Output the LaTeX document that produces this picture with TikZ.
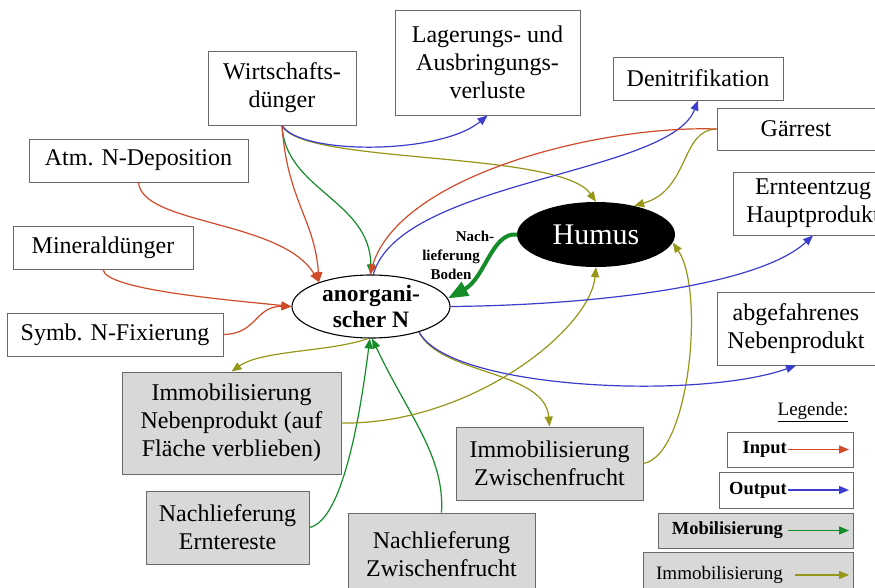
\documentclass[tikz,border=0pt]{standalone}
\usepackage{fontspec}
\setmainfont{Liberation Serif}
\usetikzlibrary{arrows.meta,shapes.geometric}
\definecolor{cin}{RGB}{210,75,40}
\definecolor{cout}{RGB}{60,60,205}
\definecolor{cmob}{RGB}{20,140,40}
\definecolor{cimm}{RGB}{150,150,25}
\definecolor{boxgray}{RGB}{216,216,216}
\definecolor{framegray}{RGB}{105,105,105}
\begin{document}
\begin{tikzpicture}[x=1pt,y=-1pt,
  box/.style={draw=framegray,line width=0.9pt,fill=white,inner sep=0pt,align=center,font=\fontsize{24}{28}\selectfont},
  gbox/.style={box,fill=boxgray},
  lbox/.style={draw=framegray,line width=0.9pt,inner sep=0pt},
  ltext/.style={inner sep=0pt,anchor=east,font=\fontsize{18.5}{22}\selectfont\bfseries},
  flow/.style={line width=1.2pt,-{Triangle[length=10pt,width=8pt]}},
  fin/.style={flow,draw=cin},
  fout/.style={flow,draw=cout},
  fmob/.style={flow,draw=cmob},
  fimm/.style={flow,draw=cimm}]
\clip (0,0) rectangle (875,587);
\fill[white] (0,0) rectangle (875,587);

% boxes
\node[box,minimum width=148pt,minimum height=74pt] (wd) at (282,88) {Wirtschafts-\\dünger};
\node[box,minimum width=185pt,minimum height=105pt] (lag) at (487.5,62.5) {Lagerungs- und\\Ausbringungs-\\verluste};
\node[box,minimum width=170pt,minimum height=43pt] (den) at (698,78.5) {Denitrifikation};
\node[box,minimum width=158pt,minimum height=42pt] (gar) at (796,129) {Gärrest};
\node[box,minimum width=160pt,minimum height=63pt] (ern) at (813,203.5) {Ernteentzug\\Hauptprodukt};
\node[box,minimum width=219pt,minimum height=43pt] (atm) at (138.5,160.5) {Atm. N-Deposition};
\node[box,minimum width=180pt,minimum height=43pt] (min) at (103,247.5) {Mineraldünger};
\node[box,minimum width=216pt,minimum height=43pt] (sym) at (115,334.5) {Symb. N-Fixierung};
\node[box,minimum width=158pt,minimum height=73pt] (abg) at (796,328.5) {abgefahrenes\\Nebenprodukt};
\node[gbox,minimum width=219pt,minimum height=102pt] (imn) at (231.5,423) {Immobilisierung\\Nebenprodukt (auf\\Fläche verblieben)};
\node[gbox,minimum width=163pt,minimum height=73pt] (nle) at (227.5,527.5) {Nachlieferung\\Erntereste};
\node[gbox,minimum width=187pt,minimum height=82pt] (nlz) at (441.5,554) {Nachlieferung\\Zwischenfrucht};
\node[gbox,minimum width=187pt,minimum height=73pt] (imz) at (549.5,463.5) {Immobilisierung\\Zwischenfrucht};

% ellipses
\node[ellipse,draw=black,line width=1.1pt,fill=white,inner sep=0pt,minimum width=158pt,minimum height=63pt] (an) at (371,306.5) {};
\node[align=center,inner sep=0pt,font=\fontsize{23.5}{26}\selectfont\bfseries] (antext) at (an.center) {anorgani-\\scher N};
\node[ellipse,fill=black,inner sep=0pt,minimum width=158pt,minimum height=65pt,text=white,font=\fontsize{30}{34}\selectfont] (hum) at (596,234.5) {Humus};

\node[align=center,inner sep=0pt,font=\fontsize{15}{19}\selectfont\bfseries] (nbl) at (451,255) {\hspace*{48pt}Nach-\\lieferung\\Boden};

% mobilisation (green)
\draw[fmob] (wd.south) .. controls (285,190) and (370,200) .. (an.north);
\draw[fmob] (nle.east) .. controls (345,520) and (362,400) .. (an.-92);
\draw[fmob] (nlz.north) .. controls (445,456) and (408,415) .. (an.-88);
\draw[draw=cmob,line width=4pt,-{Triangle[length=20pt,width=15pt]}] (hum.west) .. controls (492,232) and (485,278) .. (an.6);

% immobilisation (olive)
\draw[fimm] (wd.south) .. controls (300,165) and (560,150) .. (hum.north);
\draw[fimm] (gar.west) .. controls (680,130) and (690,190) .. (hum.37);
\draw[fimm] (an.-95) .. controls (330,352) and (262,350) .. (imn.north);
\draw[fimm] (imn.east) .. controls (470,425) and (590,330) .. (hum.south);
\draw[fimm] (an.-28) .. controls (440,375) and (545,370) .. (imz.north);
\draw[fimm] (imz.east) .. controls (690,455) and (705,290) .. (hum.-6);

% outputs (blue)
\draw[fout] (wd.south) .. controls (300,155) and (440,155) .. (lag.south);
\draw[fout] (an.86) .. controls (400,180) and (670,175) .. (den.south);
\draw[fout] (an.east) .. controls (600,305) and (760,285) .. (ern.south);
\draw[fout] (an.-28) .. controls (450,390) and (700,400) .. (abg.south);

% inputs (red)
\draw[fin] (atm.south) .. controls (142,225) and (282,220) .. (an.155);
\draw[fin] (wd.south) .. controls (287,200) and (315,220) .. (an.155);
\draw[fin] (min.south) .. controls (105,290) and (230,300) .. (an.west);
\draw[fin] (sym.east) .. controls (257,334) and (255,306) .. (an.west);
\draw[fin] (gar.west) .. controls (600,125) and (400,175) .. (an.92);

% legend
\node[inner sep=0pt,font=\fontsize{19}{22}\selectfont] (leg) at (813,412) {\underline{Legende:}};
\node[lbox,fill=white,minimum width=126pt,minimum height=35pt] (lin) at (790,449.5) {};
\node[lbox,fill=white,minimum width=134pt,minimum height=36pt] (lout) at (786,490) {};
\node[lbox,fill=boxgray,minimum width=195pt,minimum height=35pt] (lmob) at (755.5,530.5) {};
\node[lbox,fill=boxgray,minimum width=210pt,minimum height=46pt] (limm) at (748,575) {};
\node[ltext] (tin) at (787,449.5) {Input};
\node[ltext] (tout) at (787,490) {Output};
\node[ltext] (tmob) at (783,530.5) {Mobilisierung};
\node[ltext,font=\fontsize{19}{22}\selectfont] (timm) at (783,575) {Immobilisierung};
\coordinate (ein) at (849,449.5);
\coordinate (eout) at (849,490);
\coordinate (emob) at (849,530.5);
\coordinate (eimm) at (849,575);
\draw[fin] ([xshift=1pt]tin.east) -- (ein);
\draw[fout] ([xshift=1pt]tout.east) -- (eout);
\draw[fmob] ([xshift=5pt]tmob.east) -- (emob);
\draw[fimm] ([xshift=12pt]timm.east) -- (eimm);
\end{tikzpicture}
\end{document}
